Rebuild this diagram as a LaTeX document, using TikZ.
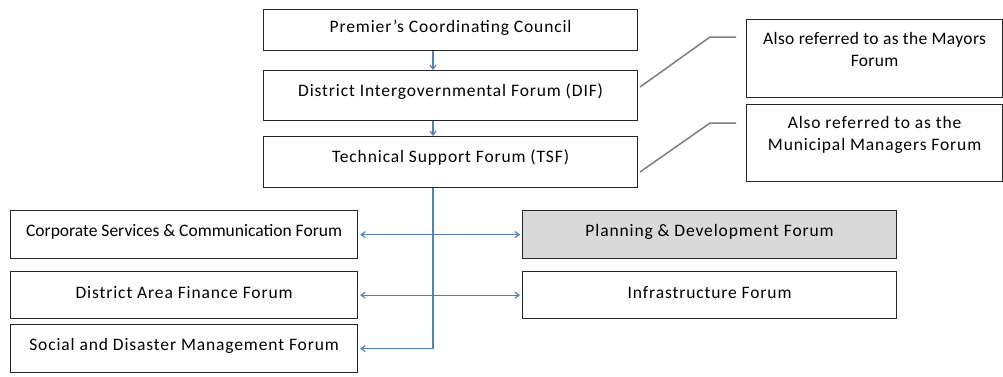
\documentclass[tikz,border=0pt]{standalone}
\usepackage{fontspec}
\setmainfont{Carlito}
\usetikzlibrary{arrows.meta,calc}
\definecolor{bluec}{HTML}{4F81BD}
\definecolor{grayc}{HTML}{7F7F7F}
\definecolor{fillc}{HTML}{D9D9D9}
\begin{document}
\begin{tikzpicture}[x=1pt,y=-1pt,
  box/.style={draw=black!85, line width=1.2pt, fill=white, anchor=north west, inner sep=0pt},
  txt/.style={font=\fontsize{17.5}{21.5}\selectfont\addfontfeature{LetterSpace=5}, align=center, inner sep=0pt},
  tighttxt/.style={font=\fontsize{17.5}{21.5}\selectfont, align=center, inner sep=0pt},
  notetxt/.style={font=\fontsize{17.5}{21.5}\selectfont\addfontfeature{LetterSpace=2}, align=center, inner sep=0pt},
  link/.style={draw=bluec, line width=1.2pt, -{Straight Barb[length=4pt,width=6pt]}},
  dlink/.style={draw=bluec, line width=1.2pt, {Straight Barb[length=4pt,width=6pt]}-{Straight Barb[length=4pt,width=6pt]}, shorten <=2pt, shorten >=2pt},
  callout/.style={draw=grayc, line width=1.5pt}]
\useasboundingbox (0,0) rectangle (1003,376);
% top column
\node[box, minimum width=374pt, minimum height=41pt, label={[txt,yshift=2.5pt]center:Premier's Coordinating Council}] (pcc) at (263,9) {};
\node[box, minimum width=374pt, minimum height=50pt, label={[txt,yshift=4pt]center:District Intergovernmental Forum (DIF)}] (dif) at (263,70) {};
\node[box, minimum width=374pt, minimum height=51pt, label={[txt,yshift=5pt]center:Technical Support Forum (TSF)}] (tsf) at (263,136) {};
% notes
\node[box, minimum width=256pt, minimum height=78pt, label={[notetxt,yshift=9pt]center:Also referred to as the Mayors\\Forum}] (may) at (746,19) {};
\node[box, minimum width=256pt, minimum height=77pt, label={[txt,yshift=8pt]center:Also referred to as the\\Municipal Managers Forum}] (mm) at (746,104) {};
% left column
\node[box, minimum width=347pt, minimum height=48pt, label={[tighttxt,yshift=3pt]center:Corporate Services \& Communication Forum}] (csc) at (10,210) {};
\node[box, minimum width=347pt, minimum height=47pt, label={[txt,yshift=3pt]center:District Area Finance Forum}] (daf) at (10,271) {};
\node[box, minimum width=347pt, minimum height=48pt, label={[txt,yshift=3pt]center:Social and Disaster Management Forum}] (sdm) at (10,324) {};
% right column
\node[box, fill=fillc, minimum width=374pt, minimum height=48pt, label={[txt,yshift=3pt]center:Planning \& Development Forum}] (pdf) at (522,210) {};
\node[box, minimum width=374pt, minimum height=47pt, label={[txt,yshift=3pt]center:Infrastructure Forum}] (inf) at (522,271) {};
% connectors
\coordinate (ax) at (433,0);
\draw[link] (pcc.south -| ax) -- (dif.north -| ax);
\draw[link] (dif.south -| ax) -- (tsf.north -| ax);
\coordinate (top) at (tsf.south -| ax);
\coordinate (bend) at (ax |- sdm.east);
\draw[link, shorten >=2pt] (top) -- (bend) -- (sdm.east);
\draw[dlink] (csc.east) -- (pdf.west);
\draw[dlink] (daf.east) -- (inf.west);
% callouts
\coordinate (c1a) at (640,87);
\coordinate (c1b) at (710,37);
\coordinate (c1c) at (736,37);
\draw[callout] (c1a) -- (c1b) -- (c1c);
\coordinate (c2a) at (640,172);
\coordinate (c2b) at (710,123);
\coordinate (c2c) at (736,123);
\draw[callout] (c2a) -- (c2b) -- (c2c);
\end{tikzpicture}
\end{document}
